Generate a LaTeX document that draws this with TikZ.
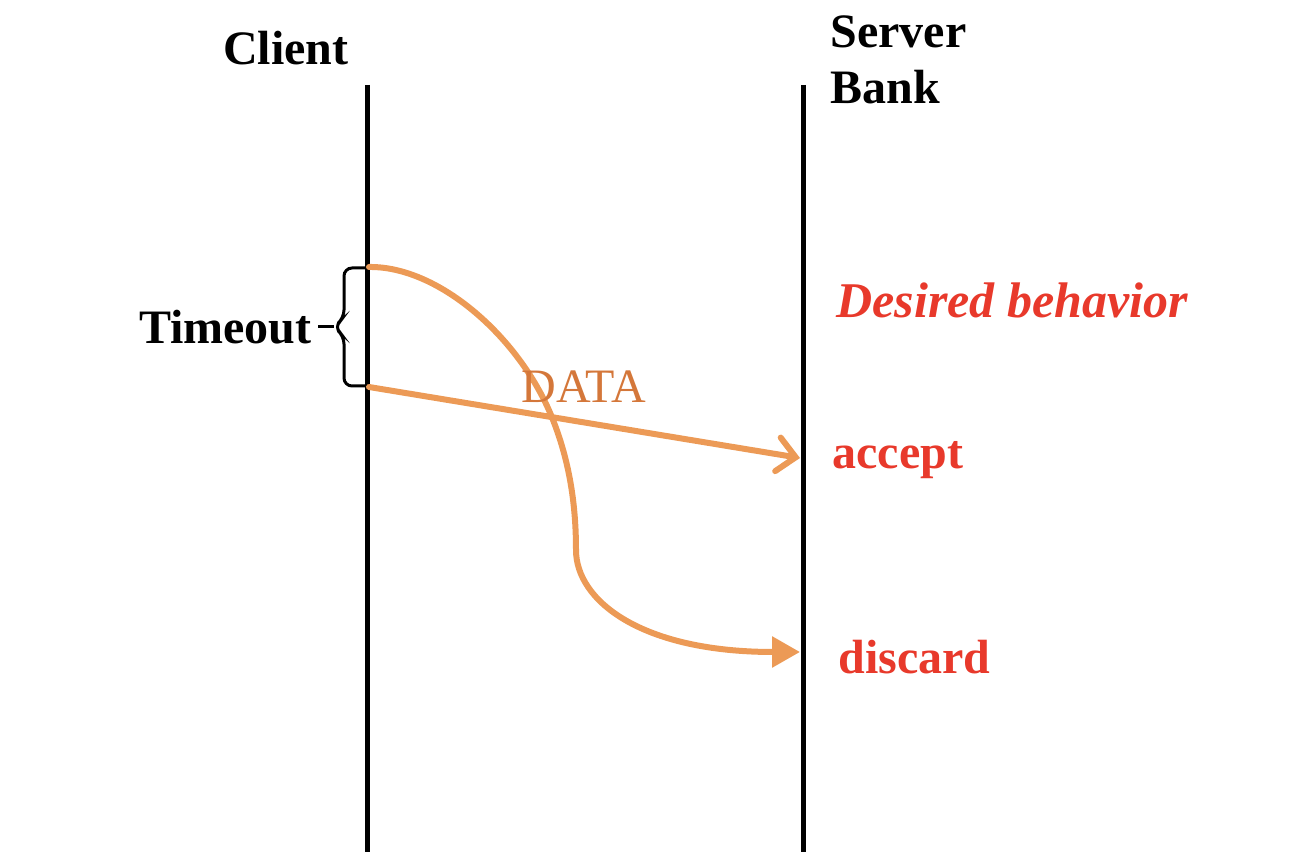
\documentclass[tikz,border=0pt]{standalone}
\usepackage{fontspec}
\setmainfont{Liberation Serif}
\usepackage{xcolor}
\usetikzlibrary{arrows.meta,positioning}
\definecolor{MsgOrange}{HTML}{EC9A56}
\definecolor{DataOrange}{HTML}{D4773A}
\definecolor{AlertRed}{HTML}{E8392B}
\tikzset{
  lifeline/.style={line width=2.5pt, draw=black},
  lbl/.style={font=\fontsize{24}{28}\selectfont\bfseries, inner sep=0pt},
  redlbl/.style={lbl, text=AlertRed, anchor=west},
  msg/.style={-{Straight Barb[length=9pt, width=17pt, line cap=round]}, line width=3pt, draw=MsgOrange, line cap=round},
  lostmsg/.style={-{Triangle[length=14pt, width=15pt]}, line width=3pt, draw=MsgOrange, line cap=round},
  timebrace/.style={line width=1.5pt, rounded corners=4pt}
}

\begin{document}
\begin{tikzpicture}[x=0.5pt, y=-0.5pt]
\useasboundingbox (0,0) rectangle (1296,854);
% lifelines
\draw[lifeline] (367,85) -- (367,852);
\draw[lifeline] (803,85) -- (803,852);
\node[lbl] (client) at (286,48) {Client};
\node[lbl, anchor=west, align=left] (server) at (830,60) {Server\\Bank};
% points on the lifelines
\coordinate (c1) at (369,267);
\coordinate (c2) at (369,387);
\coordinate (s1) at (800,458);
\coordinate (s2) at (800,652);
% timeout
\node[lbl, anchor=east] (timeout) at (312,327) {Timeout};
\coordinate (tip) at (334,327);
\draw[timebrace] (367,268) -| (344,318) -- (tip) -- (344,336) |- (367,386);
\draw[line width=1.5pt] (timeout.east) ++(3pt,0) -- (tip);
% messages
\draw[lostmsg] (c1) .. controls (440,266) and (522,340) .. (553,420)
  .. controls (568,458) and (576,500) .. (576,550)
  .. controls (576,600) and (640,652) .. (s2);
\draw[msg] (c2) -- (s1);
\node[font=\fontsize{24}{28}\selectfont, text=DataOrange, inner sep=0pt] (data) at (584,387) {DATA};
% outcomes
\node[redlbl, font=\fontsize{25}{28}\selectfont\bfseries\itshape] (desired) at (836,300) {Desired behavior};
\node[redlbl] (accept) at (832,460) {accept};
\node[redlbl] (discard) at (838,657) {discard};
\end{tikzpicture}
\end{document}
